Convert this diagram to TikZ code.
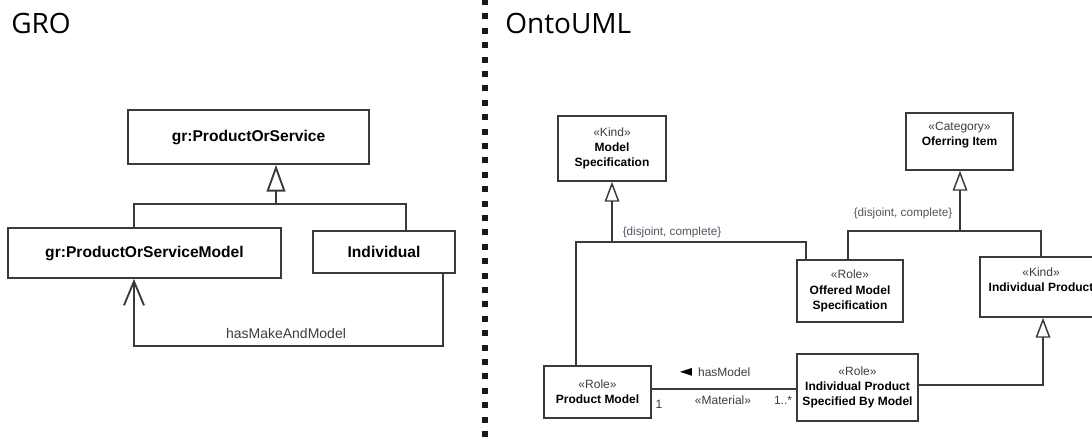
\documentclass[tikz,border=0pt]{standalone}
\usepackage{fontspec}
\setmainfont{Liberation Sans}
\newfontfamily\titlefont{Open Sans}
\newfontfamily\symfont{DejaVu Sans}
\usetikzlibrary{arrows.meta}
\definecolor{lncol}{HTML}{3A3A3A}
\definecolor{txtcol}{HTML}{3C3C3C}
\definecolor{lblcol}{HTML}{4E5660}

\begin{document}
\begin{tikzpicture}[x=0.75pt,y=-0.75pt]
  \tikzstyle{TitleStyle}=[font=\titlefont\fontsize{21}{25}\selectfont,anchor=base west,inner sep=0pt]
  \tikzstyle{GroClass}=[draw=lncol,line width=1.4pt,inner sep=0pt,font=\fontsize{11.7}{14}\selectfont\bfseries]
  \tikzstyle{OntoClass}=[draw=lncol,line width=1.1pt,inner sep=0pt,align=center,font=\fontsize{9}{11.4}\selectfont]
  \tikzstyle{GroEdge}=[draw=lncol,line width=1.4pt]
  \tikzstyle{OntoEdge}=[draw=lncol,line width=1.1pt]
  \tikzstyle{BigGen}=[-{Triangle[open,length=20pt,width=14pt]}]
  \tikzstyle{SmallGen}=[-{Triangle[open,length=15pt,width=11pt]}]
  \tikzstyle{OpenHead}=[-{Straight Barb[length=18pt,width=15pt]}]
  \tikzstyle{LabelStyle}=[inner sep=0pt,text=lblcol,font=\fontsize{8.8}{10}\selectfont]
  \useasboundingbox (0,0) rectangle (1092,444);
  % titles and separator
  \node[TitleStyle] (gro) at (11,33) {GRO};
  \node[TitleStyle] (onto) at (505,33) {OntoUML};
  \draw[line width=4.5pt,dash pattern=on 4.5pt off 6.3pt,black!90] (485,-1) -- (485,446);
  % GRO
  \node[GroClass,minimum width=180.75pt,minimum height=40.5pt] (ps) at (248.5,137) {gr:ProductOrService};
  \node[GroClass,minimum width=204.75pt,minimum height=37.5pt] (psm) at (144.5,253) {gr:ProductOrServiceModel};
  \node[GroClass,minimum width=106.5pt,minimum height=31.5pt] (ind) at (384,252) {Individual};
  \coordinate (gj) at (276,204);
  \coordinate (gl) at (134,204);
  \coordinate (gr) at (406,204);
  \draw[GroEdge,BigGen] (gj) -- (gj |- ps.south);
  \draw[GroEdge] (psm.north -| gl) -- (gl) -- (gr) -- (gr |- ind.north);
  \coordinate (ar) at (443,346);
  \coordinate (al) at (134,346);
  \draw[GroEdge,OpenHead] (ind.south -| ar) -- (ar) -- (al) -- (al |- psm.south);
  \node[inner sep=0pt,text=txtcol,font=\fontsize{10.5}{12}\selectfont] (hmam) at (286,333) {hasMakeAndModel};
  % OntoUML
  \node[OntoClass,minimum width=81pt,minimum height=48.75pt] (ms) at (612,148.5)
    {\textcolor{txtcol}{«Kind»}\\\textbf{Model}\\\textbf{Specification}};
  \node[OntoClass,minimum width=80.25pt,minimum height=42.75pt] (oi) at (959.5,141.5)
    {\textcolor{txtcol}{«Category»}\\\textbf{Oferring Item}\\~};
  \node[OntoClass,minimum width=79.5pt,minimum height=46.5pt] (oms) at (850,291)
    {\textcolor{txtcol}{«Role»}\\\textbf{Offered Model}\\\textbf{Specification}};
  \node[OntoClass,minimum width=91.5pt,minimum height=45pt] (ip) at (1041,287)
    {\textcolor{txtcol}{«Kind»}\\\textbf{Individual Product}\\~};
  \node[OntoClass,minimum width=80.25pt,minimum height=39pt] (pm) at (597.5,392)
    {\textcolor{txtcol}{«Role»}\\\textbf{Product Model}};
  \node[OntoClass,minimum width=90.75pt,minimum height=50.25pt] (ipsbm) at (857.5,387.5)
    {\textcolor{txtcol}{«Role»}\\\textbf{Individual Product}\\\textbf{Specified By Model}};
  % generalization sets
  \coordinate (msj) at (612,242);
  \coordinate (msl) at (576,242);
  \coordinate (msr) at (806,242);
  \draw[OntoEdge,SmallGen] (msj) -- (ms.south);
  \draw[OntoEdge] (pm.north -| msl) -- (msl) -- (msr) -- (msr |- oms.north);
  \node[LabelStyle] (gs1) at (672,232) {\{disjoint, complete\}};
  \coordinate (oij) at (960,231);
  \coordinate (oil) at (848,231);
  \coordinate (oir) at (1041,231);
  \draw[OntoEdge,SmallGen] (oij) -- (oij |- oi.south);
  \draw[OntoEdge] (oms.north -| oil) -- (oil) -- (oir) -- (oir |- ip.north);
  \node[LabelStyle] (gs2) at (903,213) {\{disjoint, complete\}};
  \coordinate (ipj) at (1043,385);
  \draw[OntoEdge,SmallGen] (ipsbm.east |- ipj) -- (ipj) -- (ipj |- ip.south);
  % material relation
  \coordinate (hm) at (720,389);
  \draw[OntoEdge] (pm.east |- hm) -- (ipsbm.west |- hm);
  \node[inner sep=0pt,text=txtcol,font=\fontsize{9}{11}\selectfont] (hmname) at (715,372)
    {{\symfont\fontsize{12}{12}\selectfont\color{black}◄}\hspace{4.5pt}hasModel};
  \node[inner sep=0pt,text=txtcol,font=\fontsize{9}{11}\selectfont] (hmster) at (723,400) {«Material»};
  \node[inner sep=0pt,text=txtcol,font=\fontsize{9}{11}\selectfont] (mult1) at (659,404) {1};
  \node[inner sep=0pt,text=txtcol,font=\fontsize{9}{11}\selectfont] (mult2) at (783,400) {1..*};
%  \draw[OntoEdge] (pm) -- (ipsbm);
\end{tikzpicture}
\end{document}
